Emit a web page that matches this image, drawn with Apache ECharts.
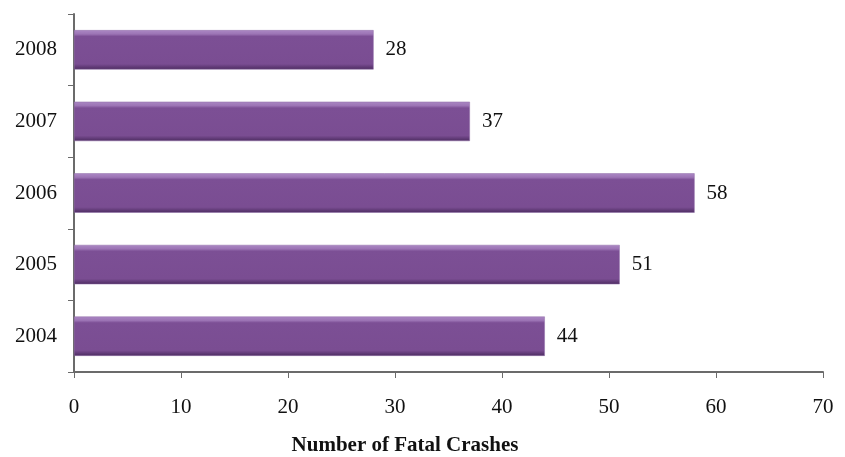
<!DOCTYPE html>
<html>
<head>
<meta charset="utf-8">
<title>Fatal Crashes by Year</title>
<script src="https://cdn.jsdelivr.net/npm/echarts@6/dist/echarts.min.js"></script>
<style>
  html, body { margin: 0; padding: 0; background: #fff; }
  #chart { width: 845px; height: 457px; }
</style>
</head>
<body>
<div id="chart"></div>
<script>
// chart data
const years = ['2004', '2005', '2006', '2007', '2008'];
const crashes = [44, 51, 58, 37, 28];
const xTicks = [0, 10, 20, 30, 40, 50, 60, 70];
const axisTitle = 'Number of Fatal Crashes';

const FONT = '"Liberation Serif", "DejaVu Serif", serif';
const AXIS_GRAY = '#6b6b6b';

// bevelled purple look, done with a vertical gradient
const barFill = new echarts.graphic.LinearGradient(0, 0, 0, 1, [
  { offset: 0, color: '#ab88c4' },
  { offset: 0.1, color: '#9c74b5' },
  { offset: 0.16, color: '#7c4f95' },
  { offset: 0.86, color: '#7a4d92' },
  { offset: 0.94, color: '#603a76' },
  { offset: 1, color: '#4c2c5f' }
]);

const chart = echarts.init(document.getElementById('chart'), null, { renderer: 'canvas' });

chart.setOption({
  animation: false,
  backgroundColor: '#fff',
  grid: { left: 74, right: 22, top: 14, bottom: 85, containLabel: false },
  xAxis: {
    type: 'value',
    min: xTicks[0],
    max: xTicks[xTicks.length - 1],
    interval: 10,
    splitLine: { show: false },
    axisLine: { show: true, lineStyle: { color: AXIS_GRAY, width: 2 } },
    axisTick: { show: true, length: 6, lineStyle: { color: AXIS_GRAY, width: 1 } },
    axisLabel: { color: '#111', fontFamily: FONT, fontSize: 21, margin: 25 }
  },
  yAxis: {
    type: 'category',
    data: years,
    axisLine: { show: true, lineStyle: { color: AXIS_GRAY, width: 2 } },
    axisTick: { show: true, length: 6, lineStyle: { color: AXIS_GRAY, width: 1 } },
    axisLabel: { color: '#111', fontFamily: FONT, fontSize: 21, margin: 17 }
  },
  graphic: [
    {
      type: 'text',
      x: 405,
      y: 446,
      style: {
        text: axisTitle,
        fill: '#111',
        font: 'bold 21px ' + FONT,
        textAlign: 'center',
        textVerticalAlign: 'middle'
      }
    }
  ],
  series: [
    {
      type: 'bar',
      data: crashes,
      barWidth: '55%',
      itemStyle: {
        color: barFill,
        borderColor: '#8f6aa6',
        borderWidth: 0.5
      },
      label: {
        show: true,
        position: 'right',
        distance: 12,
        color: '#111',
        fontFamily: FONT,
        fontSize: 21
      }
    }
  ]
});
</script>
</body>
</html>
